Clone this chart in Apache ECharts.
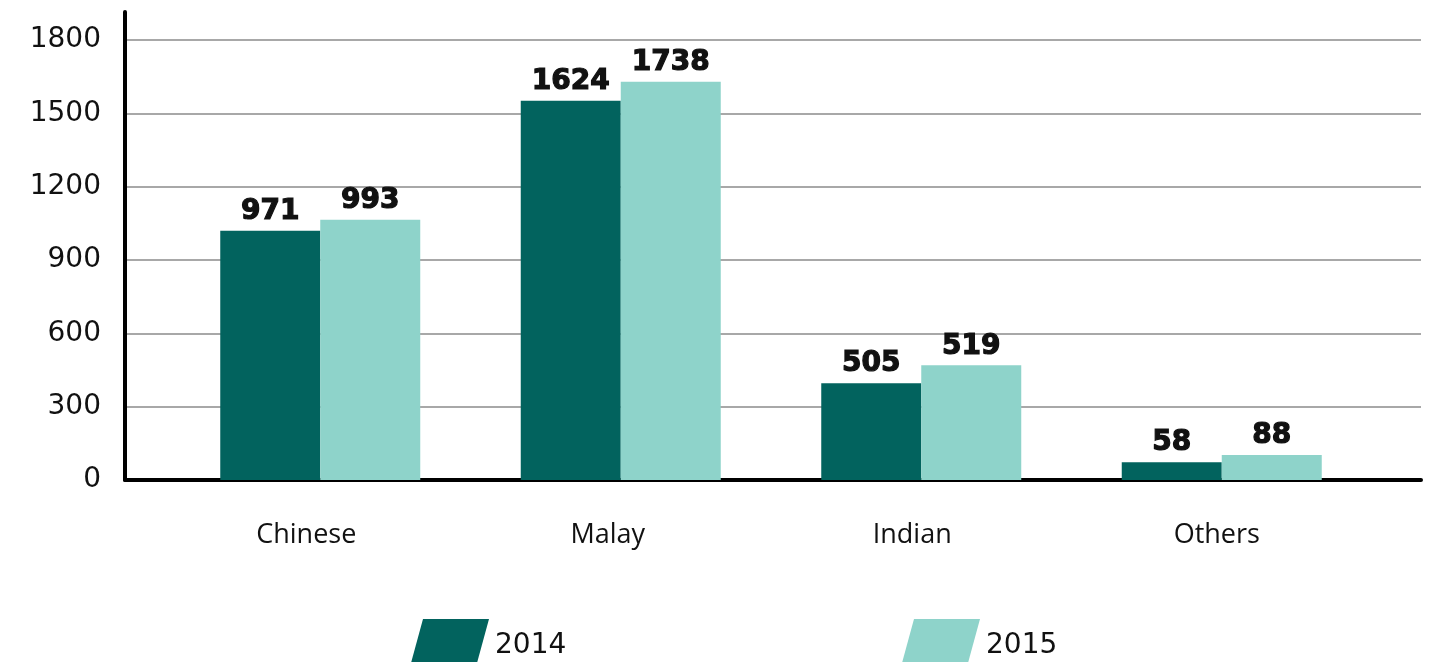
<!DOCTYPE html>
<html>
<head>
<meta charset="utf-8">
<script src="https://cdn.jsdelivr.net/npm/echarts@6/dist/echarts.min.js"></script>
<style>
html,body{margin:0;padding:0;background:#fff;}
#chart{width:1438px;height:662px;}
</style>
</head>
<body>
<div id="chart"></div>
<script>
// categories and the two years
var categories = ['Chinese', 'Malay', 'Indian', 'Others'];
var years = ['2014', '2015'];
// bar heights as drawn in the picture
var values2014 = [1020, 1551, 396, 73];
var values2015 = [1065, 1629, 469, 102];
// numbers printed above the bars
var labels2014 = ['971', '1624', '505', '58'];
var labels2015 = ['993', '1738', '519', '88'];
// value axis
var yMin = 0, yMax = 1800, yStep = 300;

var dark = '#02635e';
var light = '#8ed3ca';
// the category names sit a bit left of the bar pairs
var nameShift = [14, 13, 9, 5];

var chart = echarts.init(document.getElementById('chart'));

var barLabel = function (arr) {
    return {
        show: true,
        position: 'top',
        distance: 5,
        fontFamily: 'DejaVu Sans',
        fontWeight: 'bold',
        fontSize: 28,
        color: '#111',
        textBorderColor: '#111',
        textBorderWidth: 1.2,
        formatter: function (p) { return arr[p.dataIndex]; }
    };
};

var catData = categories.map(function (c, i) {
    return {value: c, textStyle: {padding: [0, nameShift[i] * 2, 0, 0]}};
});

var legendIcon = 'path://M12,0 L78,0 L66,44 L0,44 Z';
var legendText = {
    fontFamily: 'DejaVu Sans', fontSize: 28, color: '#111',
    rich: {t: {fontFamily: 'DejaVu Sans', fontSize: 28, color: '#111', padding: [10, 0, 0, 1]}}
};

var option = {
    animation: false,
    backgroundColor: '#fff',
    grid: [
        // bars
        {left: 170, right: 66, top: 40, bottom: 182},
        // gridlines + tick labels
        {left: 125, right: 17, top: 40, bottom: 182},
        // axis lines (y line reaches above 1800)
        {left: 125, right: 17, top: 12, bottom: 182}
    ],
    xAxis: [
        {
            gridIndex: 0, type: 'category', data: catData,
            axisLine: {show: false}, axisTick: {show: false},
            axisLabel: {margin: 42, fontFamily: 'Open Sans', fontSize: 27, color: '#111'}
        },
        {gridIndex: 1, type: 'value', show: false},
        {
            gridIndex: 2, type: 'value',
            axisLine: {show: true, lineStyle: {color: '#000', width: 4}},
            axisTick: {show: false}, axisLabel: {show: false}, splitLine: {show: false}
        }
    ],
    yAxis: [
        {gridIndex: 0, type: 'value', min: yMin, max: yMax, interval: yStep, show: false},
        {
            gridIndex: 1, type: 'value', min: yMin, max: yMax, interval: yStep,
            axisLine: {show: false}, axisTick: {show: false},
            axisLabel: {
                margin: 24, fontFamily: 'DejaVu Sans', fontSize: 28, color: '#111',
                formatter: function (v) { return String(v); }
            },
            splitLine: {show: true, lineStyle: {color: '#a8a8a8', width: 2}}
        },
        {
            gridIndex: 2, type: 'value',
            axisLine: {show: true, lineStyle: {color: '#000', width: 4}},
            axisTick: {show: false}, axisLabel: {show: false}, splitLine: {show: false}
        }
    ],
    legend: [
        {
            data: [years[0]], left: 411, top: 619, padding: 0,
            itemWidth: 78, itemHeight: 44, icon: legendIcon,
            formatter: '{t|{name}}', textStyle: legendText
        },
        {
            data: [years[1]], left: 902, top: 619, padding: 0,
            itemWidth: 78, itemHeight: 44, icon: legendIcon,
            formatter: '{t|{name}}', textStyle: legendText
        }
    ],
    series: [
        {
            name: years[0], type: 'bar', xAxisIndex: 0, yAxisIndex: 0,
            data: values2014, barWidth: 100, barGap: '0%',
            itemStyle: {color: dark}, label: barLabel(labels2014)
        },
        {
            name: years[1], type: 'bar', xAxisIndex: 0, yAxisIndex: 0,
            data: values2015, barWidth: 100, barGap: '0%',
            itemStyle: {color: light}, label: barLabel(labels2015)
        }
    ]
};

chart.setOption(option);
</script>
</body>
</html>
